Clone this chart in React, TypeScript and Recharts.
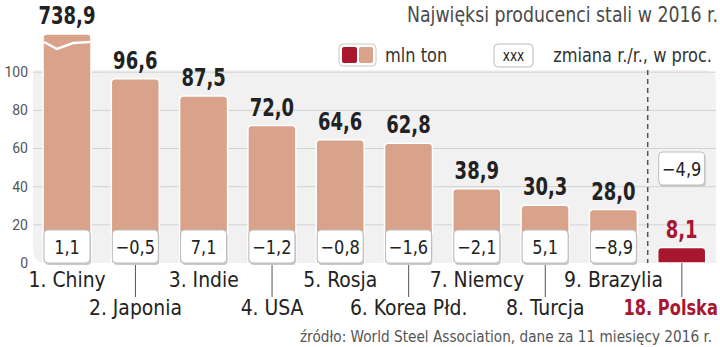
import { Bar, BarChart, CartesianGrid, Customized, LabelList, ReferenceArea, XAxis, YAxis } from 'recharts'

const countries = ['1. Chiny', '2. Japonia', '3. Indie', '4. USA', '5. Rosja', '6. Korea Płd.', '7. Niemcy', '8. Turcja', '9. Brazylia', '18. Polska']
const output = [738.9, 96.6, 87.5, 72.0, 64.6, 62.8, 38.9, 30.3, 28.0, 8.1]
const change = [1.1, -0.5, 7.1, -1.2, -0.8, -1.6, -2.1, 5.1, -8.9, -4.9]
const yTicks = [0, 20, 40, 60, 80, 100]
const gridValues = [20, 40, 60, 80, 100]

// bars above this are drawn cut with a break mark
const BREAK_AT = 120

const data = countries.map((name, i) => ({
  name,
  value: output[i],
  shown: Math.min(output[i], BREAK_AT),
  change: change[i],
  highlight: name === '18. Polska',
  broken: output[i] > BREAK_AT,
}))

const W = 720
const H = 347
const margin = { top: 34, right: 4, bottom: 0, left: 0 }
const Y_AXIS_W = 33
const X_AXIS_H = 84
const plotLeft = margin.left + Y_AXIS_W
const plotW = W - plotLeft - margin.right
const band = plotW / countries.length
const plotBottom = H - margin.bottom - X_AXIS_H

const narrow = "'Liberation Sans Narrow', 'DejaVu Sans Condensed', Roboto, sans-serif"
const SALMON = '#d9a28b'
const RED = '#a8172e'
const INK = '#222'
const GREY_TXT = '#4a4a4a'

const fmt = (v: number) => v.toFixed(1).replace('.', ',').replace('-', '\u2212')

// narrow text: squeeze horizontally around its anchor point
function Squeezed({ x, y, k = 0.84, children, ...rest }: any) {
  return (
    <text transform={`translate(${x},${y}) scale(${k},1)`} fontFamily={narrow} {...rest}>
      {children}
    </text>
  )
}

function SteelBar(props: any) {
  const { x, y, width, height, payload } = props
  const r = 4
  const fill = payload.highlight ? RED : SALMON
  const d = `M${x},${y + height} V${y + r} Q${x},${y} ${x + r},${y} H${x + width - r} Q${x + width},${y} ${x + width},${y + r} V${y + height} Z`
  return (
    <g>
      <path d={d} fill={fill} stroke='#fff' strokeWidth={1.5} />
      {payload.broken && (
        <polyline
          points={`${x + 1},${y + 8} ${x + 14},${y + 15} ${x + 30},${y + 9} ${x + width - 1},${y + 8}`}
          fill='none'
          stroke='#fff'
          strokeWidth={2.5}
        />
      )}
    </g>
  )
}

function ValueLabel(props: any) {
  const { x, y, width, value } = props
  const row = data.find((d) => d.value === value)
  return (
    <Squeezed
      x={x + width / 2}
      y={y - 10}
      k={0.8}
      textAnchor='middle'
      fontWeight={700}
      fontSize={25}
      fill={row?.highlight ? RED : INK}
    >
      {fmt(value)}
    </Squeezed>
  )
}

function ChangeBox(props: any) {
  const { x, y, width, height, value } = props
  const row = data.find((d) => d.change === value)
  const cx = x + width / 2
  const bottom = y + height
  const top = row?.highlight ? bottom - 111 : bottom - 33
  return (
    <g>
      <rect x={cx - 22} y={top + 2} width={46} height={33} rx={4} fill='#c9c9c9' />
      <rect x={cx - 23} y={top} width={46} height={33} rx={4} fill='#fff' stroke='#bdbdbd' />
      <Squeezed x={cx} y={top + 24} k={0.9} textAnchor='middle' fontSize={20} fill={INK}>
        {fmt(value)}
      </Squeezed>
    </g>
  )
}

function CountryTick(props: any) {
  const { x, y, payload } = props
  const i = countries.indexOf(payload.value)
  const low = i % 2 === 1
  const last = i === countries.length - 1
  return (
    <g>
      {low && <line x1={x} x2={x} y1={y} y2={y + 34} stroke='#555' strokeWidth={1} />}
      <Squeezed
        x={last ? x + 36 : x}
        y={y + (low ? 52 : 24)}
        k={last ? 0.82 : 0.95}
        textAnchor={last ? 'end' : 'middle'}
        fontSize={22}
        fontWeight={last ? 700 : 400}
        fill={last ? RED : INK}
      >
        {payload.value}
      </Squeezed>
    </g>
  )
}

function PlotBackground(props: any) {
  const { x, y, width, height } = props
  const r1 = 12
  const r2 = 14
  const d = `M${x},${y} H${x + width - r1} Q${x + width},${y} ${x + width},${y + r1} V${y + height} H${x + r2} Q${x},${y + height} ${x},${y + height - r2} Z`
  return <path d={d} fill='#f1f1f1' />
}

function Decor() {
  const splitX = plotLeft + band * 9
  return (
    <g>
      <line x1={splitX} x2={splitX} y1={70} y2={plotBottom} stroke='#555' strokeWidth={1.5} strokeDasharray='5 4' />
      <Squeezed x={718} y={22} k={0.92} textAnchor='end' fontSize={21} fill={GREY_TXT}>
        Najwięksi producenci stali w 2016 r.
      </Squeezed>
      <rect x={339} y={44} width={37} height={22} rx={4} fill='#fff' stroke='#c8c8c8' />
      <rect x={342} y={47} width={15} height={16} rx={2} fill={RED} />
      <rect x={359} y={47} width={14} height={16} rx={2} fill={SALMON} />
      <Squeezed x={385} y={62} k={0.9} fontSize={20} fill='#333'>mln ton</Squeezed>
      <rect x={494} y={44} width={39} height={23} rx={4} fill='#fff' stroke='#bbb' />
      <Squeezed x={513.5} y={61} k={0.9} textAnchor='middle' fontSize={15} fill={INK}>xxx</Squeezed>
      <Squeezed x={712} y={62} k={0.9} textAnchor='end' fontSize={20} fill='#333'>zmiana r./r., w proc.</Squeezed>
      <Squeezed x={712} y={342} k={0.95} textAnchor='end' fontSize={16} fill='#555'>
        źródło: World Steel Association, dane za 11 miesięcy 2016 r.
      </Squeezed>
    </g>
  )
}

export default function App() {
  return (
    <div style={{ position: 'absolute', left: 0, top: 0, width: W, height: H, background: '#fff' }}>
      <BarChart width={W} height={H} data={data} margin={margin}>
        <ReferenceArea y1={0} y2={101} shape={PlotBackground} zIndex={-200} />
        <CartesianGrid vertical={false} horizontalValues={gridValues} stroke='#d2d2d2' />
        <Customized component={<Decor />} />
        <XAxis
          dataKey='name'
          height={X_AXIS_H}
          axisLine={false}
          tickLine={false}
          tickSize={0}
          tickMargin={0}
          interval={0}
          tick={CountryTick}
        />
        <YAxis
          domain={[0, BREAK_AT]}
          ticks={yTicks}
          width={Y_AXIS_W}
          axisLine={false}
          tickLine={false}
          tickSize={0}
          tickMargin={5}
          tick={{ fontSize: 14, fill: '#555', fontFamily: 'Roboto, sans-serif' }}
        />
        <Bar dataKey='shown' barSize={48} shape={SteelBar} isAnimationActive={false}>
          <LabelList dataKey='value' content={ValueLabel} />
          <LabelList dataKey='change' content={ChangeBox} />
        </Bar>
      </BarChart>
    </div>
  )
}
